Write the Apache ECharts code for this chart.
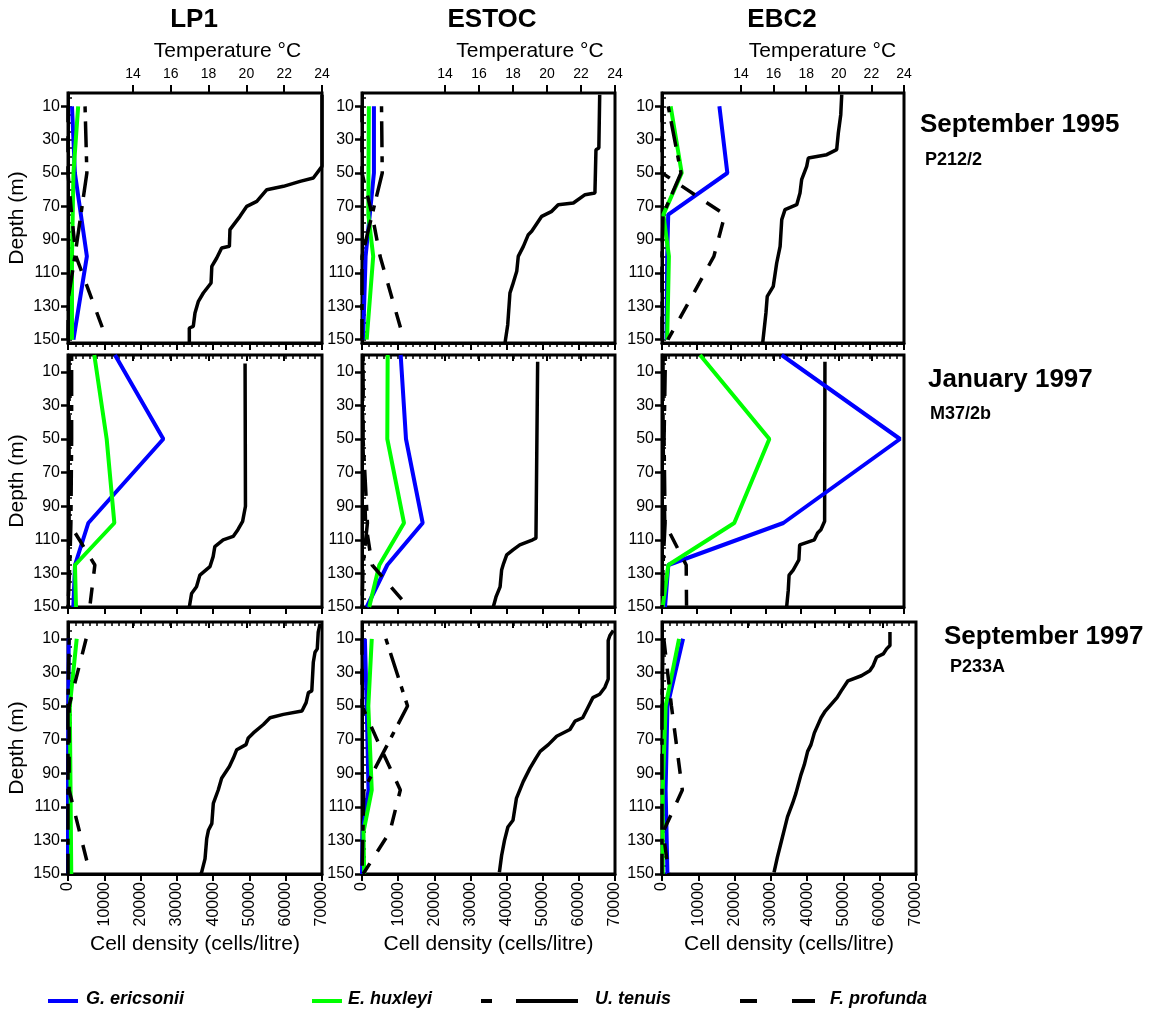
<!DOCTYPE html>
<html>
<head>
<meta charset="utf-8">
<script src="https://cdn.jsdelivr.net/npm/echarts@6.0.0/dist/echarts.min.js"></script>
<style>
    html, body { margin: 0; padding: 0; background: #fff; }
    #main { width: 1165px; height: 1012px; }
</style>
</head>
<body>
<div id="main"></div>
<script>
// ---- September 1995 (P212/2) ----
var lp1Sep95Depth = [10, 50, 75, 100, 125, 150];
var lp1Sep95Geric = [1100, 1900, null, 5200, null, 1500];
var lp1Sep95Ehux = [2800, 1500, null, 1100, null, 1100];
var lp1Sep95Uten = [4700, 5200, null, 1900, 100, 0];
var lp1Sep95Fprof = [0, 0, 1000, 2200, null, 10700];
var lp1Sep95TempDepth = [3, 46, 53, 55, 58, 60, 67, 70, 76, 84, 94, 95, 101, 106, 116, 122, 127, 134, 142, 143, 152];
var lp1Sep95Temp = [24.0, 24.0, 23.54, 22.84, 21.96, 21.08, 20.55, 20.02, 19.66, 19.13, 19.1, 18.69, 18.43, 18.17, 18.13, 17.72, 17.46, 17.28, 17.19, 16.98, 16.98];

var estocSep95Depth = [10, 50, 75, 100, 125, 150];
var estocSep95Geric = [3300, 3300, null, 1000, null, 300];
var estocSep95Ehux = [1900, 1800, 1750, 3100, null, 1300];
var estocSep95Uten = [5400, 5600, null, 0, null, 0];
var estocSep95Fprof = [0, 0, 2800, 5000, null, 11600];
var estocSep95TempDepth = [3, 35, 36, 62, 63, 68, 69, 73, 76, 85, 87, 94, 100, 109, 117, 122, 141, 152];
var estocSep95Temp = [23.1, 23.05, 22.88, 22.82, 22.24, 21.55, 20.66, 20.28, 19.69, 19.1, 18.9, 18.61, 18.31, 18.22, 17.98, 17.82, 17.69, 17.53];

var ebc2Sep95Depth = [10, 50, 75, 100, 125, 150];
var ebc2Sep95Geric = [16600, 18900, 1800, 1500, null, 1300];
var ebc2Sep95Ehux = [2500, 5700, 400, 2000, null, 1500];
var ebc2Sep95Uten = [1800, 5500, 300, 0, 0, 0];
var ebc2Sep95Fprof = [0, 0, 18200, 15000, 8400, 1700];
var ebc2Sep95TempDepth = [3, 15, 26, 36, 39, 41, 46, 54, 62, 69, 72, 78, 94, 104, 118, 124, 134, 152];
var ebc2Sep95Temp = [20.18, 20.12, 19.97, 19.87, 19.26, 18.13, 18.03, 17.72, 17.62, 17.42, 16.7, 16.5, 16.4, 16.19, 15.98, 15.61, 15.53, 15.33];

// ---- January 1997 (M37/2b) ----
var lp1Jan97Depth = [0, 50, 100, 125, 150];
var lp1Jan97Geric = [12950, 26270, 5600, 1930, 1470];
var lp1Jan97Ehux = [7250, 10660, 12770, 1930, 2200];
var lp1Jan97Uten = [1000, 1000, 800, 500, 0];
var lp1Jan97Fprof = [300, 300, 300, 7400, 6000];
var lp1Jan97TempDepth = [5, 90, 99, 104, 108, 110, 114, 120, 126, 131, 138, 142, 150];
var lp1Jan97Temp = [19.93, 19.95, 19.8, 19.55, 19.3, 18.77, 18.33, 18.24, 18.07, 17.54, 17.36, 17.1, 16.98];

var estocJan97Depth = [0, 50, 100, 125, 150];
var estocJan97Geric = [10700, 12170, 16790, 7000, 1300];
var estocJan97Ehux = [7100, 7000, 11620, 4800, 2000];
var estocJan97Uten = [300, 300, 1500, 300, 0];
var estocJan97Fprof = [200, 200, 1000, 2800, 12800];
var estocJan97TempDepth = [4, 109, 110, 113, 116, 119, 124, 128, 138, 144, 150];
var estocJan97Temp = [19.45, 19.35, 19.16, 18.4, 18.0, 17.63, 17.45, 17.33, 17.24, 17.0, 16.84];

var ebc2Jan97Depth = [0, 50, 100, 125, 150];
var ebc2Jan97Geric = [34600, 68850, 35100, 1830, 870];
var ebc2Jan97Ehux = [11000, 31050, 20900, 1830, 200];
var ebc2Jan97Uten = [1000, 600, 900, 300, 0];
var ebc2Jan97Fprof = [300, 300, 800, 7000, 7100];
var ebc2Jan97TempDepth = [4, 99, 104, 106, 110, 113, 122, 128, 131, 140, 150];
var ebc2Jan97Temp = [19.15, 19.13, 18.9, 18.7, 18.5, 17.6, 17.55, 17.2, 16.95, 16.9, 16.8];

// ---- September 1997 (P233A) ----
var lp1Sep97Depth = [10, 50, 100, 150];
var lp1Sep97Geric = [200, 100, 0, 0];
var lp1Sep97Ehux = [2400, 500, 700, 900];
var lp1Sep97Uten = [300, 0, 0, 0];
var lp1Sep97Fprof = [5000, 300, 300, 6100];
var lp1Sep97TempDepth = [1, 6, 16, 18, 24, 41, 42, 48, 53, 55, 57, 61, 66, 69, 73, 76, 81, 86, 93, 100, 108, 120, 124, 129, 141, 149, 151];
var lp1Sep97Temp = [23.9, 23.8, 23.75, 23.63, 23.54, 23.46, 23.28, 23.16, 22.94, 21.96, 21.25, 20.9, 20.37, 20.1, 19.98, 19.49, 19.31, 19.1, 18.69, 18.51, 18.25, 18.17, 17.99, 17.9, 17.81, 17.63, 17.54];

var estocSep97Depth = [10, 50, 75, 100, 125, 150];
var estocSep97Geric = [800, 1300, null, 1800, 200, 0];
var estocSep97Ehux = [2700, 1750, null, 2700, 400, 600];
var estocSep97Uten = [6600, 12600, null, 500, null, 0];
var estocSep97Fprof = [0, 0, 5200, 10600, 7700, 300];
var estocSep97TempDepth = [5, 8, 11, 34, 39, 43, 45, 51, 57, 59, 64, 68, 73, 77, 81, 87, 95, 105, 118, 122, 130, 139, 149];
var estocSep97Temp = [23.9, 23.7, 23.6, 23.6, 23.4, 23.1, 22.7, 22.4, 22.1, 21.65, 21.35, 20.57, 20.08, 19.6, 19.35, 19.0, 18.6, 18.2, 18.0, 17.7, 17.5, 17.33, 17.2];

var ebc2Sep97Depth = [10, 50, 100, 125, 150];
var ebc2Sep97Geric = [5800, 1500, 1000, null, 1500];
var ebc2Sep97Ehux = [4700, 1000, 200, null, 200];
var ebc2Sep97Uten = [300, 0, 0, 0, 0];
var ebc2Sep97Fprof = [500, 2600, 5600, 300, 1900];
var ebc2Sep97TempDepth = [6, 14, 16, 19, 21, 26, 29, 32, 35, 41, 45, 49, 53, 57, 66, 73, 77, 85, 91, 102, 108, 116, 124, 132, 140, 149];
var ebc2Sep97Temp = [22.45, 22.45, 22.25, 22.05, 21.65, 21.45, 21.25, 20.75, 19.95, 19.55, 19.3, 18.95, 18.6, 18.35, 17.95, 17.75, 17.55, 17.35, 17.15, 16.85, 16.65, 16.35, 16.15, 15.95, 15.75, 15.55];

// tick labels
var depthTicks = [10, 30, 50, 70, 90, 110, 130, 150];
var stations = ['LP1', 'ESTOC', 'EBC2'];
var cruises = [['September 1995', 'P212/2'], ['January 1997', 'M37/2b'], ['September 1997', 'P233A']];
var speciesNames = ['G. ericsonii', 'E. huxleyi', 'U. tenuis', 'F. profunda'];

var panelData = [
    [lp1Sep95Depth, lp1Sep95Geric, lp1Sep95Ehux, lp1Sep95Uten, lp1Sep95Fprof, lp1Sep95TempDepth, lp1Sep95Temp],
    [estocSep95Depth, estocSep95Geric, estocSep95Ehux, estocSep95Uten, estocSep95Fprof, estocSep95TempDepth, estocSep95Temp],
    [ebc2Sep95Depth, ebc2Sep95Geric, ebc2Sep95Ehux, ebc2Sep95Uten, ebc2Sep95Fprof, ebc2Sep95TempDepth, ebc2Sep95Temp],
    [lp1Jan97Depth, lp1Jan97Geric, lp1Jan97Ehux, lp1Jan97Uten, lp1Jan97Fprof, lp1Jan97TempDepth, lp1Jan97Temp],
    [estocJan97Depth, estocJan97Geric, estocJan97Ehux, estocJan97Uten, estocJan97Fprof, estocJan97TempDepth, estocJan97Temp],
    [ebc2Jan97Depth, ebc2Jan97Geric, ebc2Jan97Ehux, ebc2Jan97Uten, ebc2Jan97Fprof, ebc2Jan97TempDepth, ebc2Jan97Temp],
    [lp1Sep97Depth, lp1Sep97Geric, lp1Sep97Ehux, lp1Sep97Uten, lp1Sep97Fprof, lp1Sep97TempDepth, lp1Sep97Temp],
    [estocSep97Depth, estocSep97Geric, estocSep97Ehux, estocSep97Uten, estocSep97Fprof, estocSep97TempDepth, estocSep97Temp],
    [ebc2Sep97Depth, ebc2Sep97Geric, ebc2Sep97Ehux, ebc2Sep97Uten, ebc2Sep97Fprof, ebc2Sep97TempDepth, ebc2Sep97Temp]
];

// layout (pixels)
var cols = [
    {left: 68, right: 322, t14: 133},
    {left: 362, right: 615, t14: 445},
    {left: 662, right: 904, t14: 741}
];
var rows = [
    {top: 93, bottom: 343, dmin: 2, dmax: 152},
    {top: 355, bottom: 607, dmin: 0, dmax: 150},
    {top: 622, bottom: 874, dmin: 0, dmax: 150}
];
var styles = [
    {color: '#0000ff', width: 4, type: 'solid'},
    {color: '#00ff00', width: 4, type: 'solid'},
    {color: '#000', width: 3.5, type: [6, 9, 26, 9]},
    {color: '#000', width: 3.5, type: [16, 14]}
];
var FONT = '"Liberation Sans", Arial, sans-serif';

function pairs(depth, vals) {
    var out = [];
    for (var i = 0; i < depth.length; i++) {
        if (vals[i] !== null) out.push([vals[i], depth[i]]);
    }
    return out;
}
function steps(a, b, s) {
    var out = [];
    for (var v = a; v <= b + 1e-6; v += s) out.push(Math.round(v));
    return out;
}

var myChart = echarts.init(document.getElementById('main'));

var option = {
    animation: false,
    backgroundColor: '#fff',
    textStyle: {fontFamily: FONT},
    grid: [], xAxis: [], yAxis: [], series: [], graphic: []
};

for (var r = 0; r < 3; r++) {
    for (var c = 0; c < 3; c++) {
        var idx = r * 3 + c;
        var col = cols[c], row = rows[r];
        var right = col.right, t14 = col.t14;
        if (r === 2 && c === 2) { right = 916; t14 = 748; }
        var d = panelData[idx];
        var gA = idx * 2, gT = idx * 2 + 1, ax = idx * 3;

        option.grid.push({
            left: col.left, top: row.top, width: right - col.left, height: row.bottom - row.top,
            show: true, borderColor: '#000', borderWidth: 3
        });
        option.grid.push({
            left: t14, top: row.top, width: right - t14, height: row.bottom - row.top
        });

        // cell density
        option.xAxis.push({
            gridIndex: gA, type: 'value', min: 0, max: 70000, interval: 10000, position: 'bottom',
            axisLine: {show: true, onZero: false, lineStyle: {color: '#000', width: 3}},
            axisTick: {show: true, length: 7, lineStyle: {color: '#000', width: 2}},
            axisLabel: {show: r === 2, rotate: 90, fontSize: 16, color: '#000', margin: 8,
                showMinLabel: true, showMaxLabel: true,
                formatter: function (v) { return String(v); }},
            splitLine: {show: false},
            name: r === 2 ? 'Cell density (cells/litre)' : '', nameLocation: 'middle', nameGap: 60,
            nameTextStyle: {fontSize: 21, color: '#000'}
        });
        option.xAxis.push({
            gridIndex: gA, type: 'value', min: 0, max: 70000, position: 'bottom',
            axisLine: {show: false},
            axisTick: {show: true, length: 4, lineStyle: {color: '#000', width: 1.5}, customValues: steps(0, 70000, 2000)},
            axisLabel: {show: false}, splitLine: {show: false}
        });
        // temperature
        option.xAxis.push({
            gridIndex: gT, type: 'value', min: 14, max: 24, interval: 2, position: 'top',
            axisLine: {show: false},
            axisTick: {show: true, inside: r > 0, length: r > 0 ? 6 : 8, lineStyle: {color: '#000', width: 2}},
            axisLabel: {show: r === 0, fontSize: 14, color: '#000', margin: 12,
                showMinLabel: true, showMaxLabel: true},
            splitLine: {show: false},
            name: r === 0 ? 'Temperature °C' : '', nameLocation: 'middle', nameGap: 31,
            nameTextStyle: {fontSize: 21, color: '#000'}
        });

        // depth
        option.yAxis.push({
            gridIndex: gA, type: 'value', inverse: true, min: row.dmin, max: row.dmax,
            axisLine: {show: true, onZero: false, lineStyle: {color: '#000', width: 3}},
            axisTick: {show: true, length: 7, lineStyle: {color: '#000', width: 2.5}, customValues: depthTicks},
            axisLabel: {show: true, customValues: depthTicks, fontSize: 16, color: '#000', margin: 8},
            splitLine: {show: false},
            name: c === 0 ? 'Depth (m)' : '', nameLocation: 'middle', nameGap: 40, nameRotate: 90,
            nameTextStyle: {fontSize: 21, color: '#000'}
        });
        option.yAxis.push({
            gridIndex: gA, type: 'value', inverse: true, min: row.dmin, max: row.dmax,
            axisLine: {show: false},
            axisTick: {show: true, length: 4, lineStyle: {color: '#000', width: 1.5},
                customValues: steps(5, 150, 5).filter(function (v) { return v >= row.dmin && v <= row.dmax; })},
            axisLabel: {show: false}, splitLine: {show: false}
        });
        option.yAxis.push({
            gridIndex: gT, type: 'value', inverse: true, min: row.dmin, max: row.dmax, show: false
        });

        // temperature profile
        option.series.push({
            type: 'line', xAxisIndex: ax + 2, yAxisIndex: ax + 2,
            data: pairs(d[5], d[6]), symbol: 'none',
            lineStyle: {color: '#000', width: 3.5}, z: 3
        });
        // species
        for (var s = 0; s < 4; s++) {
            option.series.push({
                type: 'line', name: speciesNames[s], xAxisIndex: ax, yAxisIndex: ax,
                data: pairs(d[0], d[s + 1]), symbol: 'none',
                lineStyle: {color: styles[s].color, width: styles[s].width, type: styles[s].type},
                z: s < 2 ? 4 : 5
            });
        }
    }
}

// column titles
var titleX = [194, 492, 782];
for (var c = 0; c < 3; c++) {
    option.graphic.push({type: 'text', x: titleX[c], y: 20, style: {
        text: stations[c], font: 'bold 26px ' + FONT, fill: '#000', align: 'center', verticalAlign: 'middle'}});
}
// cruise labels on the right
var cruisePos = [[920, 125, 925, 160], [928, 380, 930, 414], [944, 637, 950, 667]];
for (var r = 0; r < 3; r++) {
    var p = cruisePos[r];
    option.graphic.push({type: 'text', x: p[0], y: p[1], style: {
        text: cruises[r][0], font: 'bold 26px ' + FONT, fill: '#000', verticalAlign: 'middle'}});
    option.graphic.push({type: 'text', x: p[2], y: p[3], style: {
        text: cruises[r][1], font: 'bold 18px ' + FONT, fill: '#000', verticalAlign: 'middle'}});
}

// legend
var legY = 999;
var legFont = 'italic bold 18px ' + FONT;
option.graphic.push(
    {type: 'line', shape: {x1: 48, y1: legY + 2, x2: 78, y2: legY + 2}, style: {stroke: '#0000ff', lineWidth: 4}},
    {type: 'text', x: 86, y: legY, style: {text: speciesNames[0], font: legFont, fill: '#000', verticalAlign: 'middle'}},
    {type: 'line', shape: {x1: 312, y1: legY + 2, x2: 342, y2: legY + 2}, style: {stroke: '#00ff00', lineWidth: 4}},
    {type: 'text', x: 348, y: legY, style: {text: speciesNames[1], font: legFont, fill: '#000', verticalAlign: 'middle'}},
    {type: 'line', shape: {x1: 481, y1: legY + 2, x2: 492, y2: legY + 2}, style: {stroke: '#000', lineWidth: 4}},
    {type: 'line', shape: {x1: 516, y1: legY + 2, x2: 578, y2: legY + 2}, style: {stroke: '#000', lineWidth: 4}},
    {type: 'text', x: 595, y: legY, style: {text: speciesNames[2], font: legFont, fill: '#000', verticalAlign: 'middle'}},
    {type: 'line', shape: {x1: 740, y1: legY + 2, x2: 757, y2: legY + 2}, style: {stroke: '#000', lineWidth: 4}},
    {type: 'line', shape: {x1: 792, y1: legY + 2, x2: 815, y2: legY + 2}, style: {stroke: '#000', lineWidth: 4}},
    {type: 'text', x: 830, y: legY, style: {text: speciesNames[3], font: legFont, fill: '#000', verticalAlign: 'middle'}}
);

myChart.setOption(option);
</script>
</body>
</html>
